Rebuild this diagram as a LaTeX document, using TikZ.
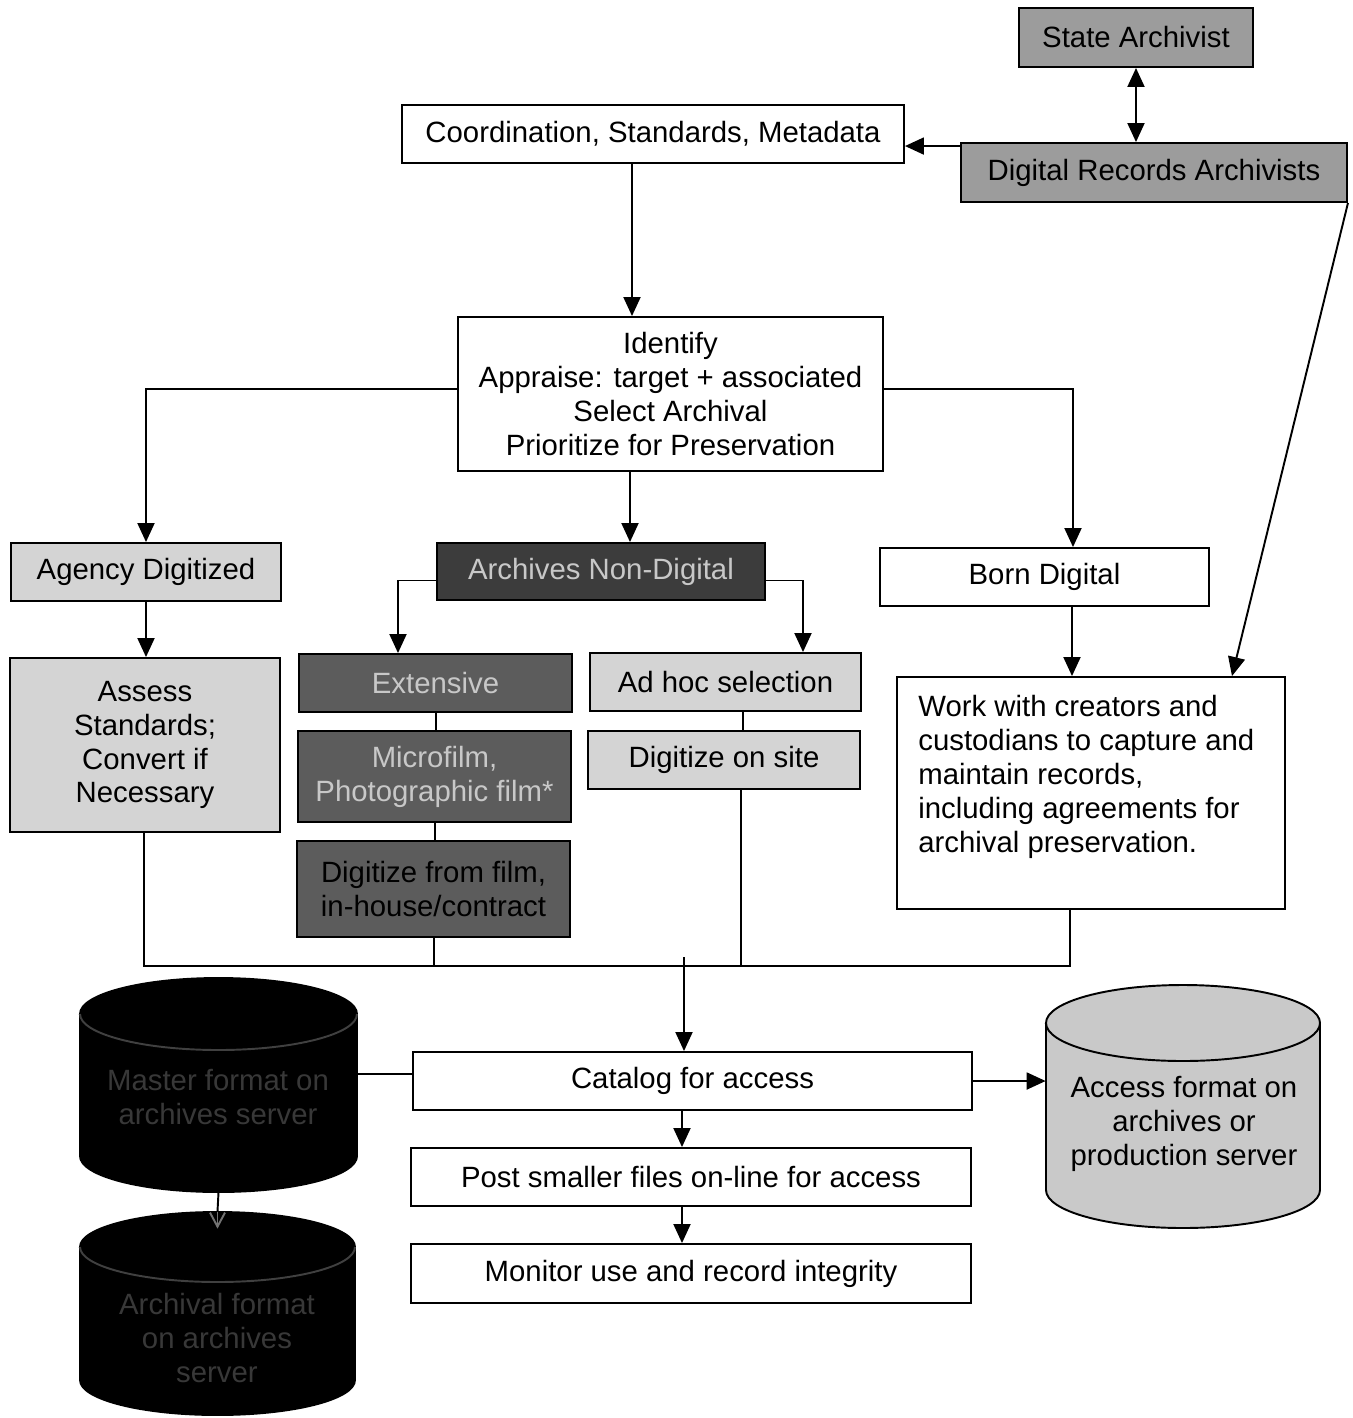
\documentclass[tikz,border=0pt]{standalone}
\usepackage{fontspec}
\setmainfont{Liberation Sans}
\usetikzlibrary{arrows.meta,calc}

\definecolor{midgray}{HTML}{9C9C9C}
\definecolor{lightgray}{HTML}{D4D4D4}
\definecolor{cylgray}{HTML}{C9C9C9}
\definecolor{darkfill}{HTML}{3C3C3C}
\definecolor{filmfill}{HTML}{5C5C5C}
\definecolor{paletext}{HTML}{C8C8C8}
\definecolor{dimtext}{HTML}{383838}

\newcommand{\dgfont}{\fontsize{16.7}{19.3}\selectfont}

% cylinder: left x, right x, top y, bottom y, ellipse half-height, fill, rim colour
\newcommand{\drawcyl}[7]{%
  \pgfmathsetmacro\cylrx{(#2-#1)/2*0.02}%
  \pgfmathsetmacro\cylry{#5*0.02}%
  \draw[ln, fill=#6] (#1,#3+#5) -- (#1,#4-#5)
    arc[start angle=180, end angle=360, x radius=\cylrx cm, y radius=\cylry cm]
    -- (#2,#3+#5)
    arc[start angle=0, end angle=180, x radius=\cylrx cm, y radius=\cylry cm] -- cycle;
  \draw[ln, draw=#7] (#1,#3+#5)
    arc[start angle=180, end angle=360, x radius=\cylrx cm, y radius=\cylry cm];
}

\tikzset{
  ln/.style={line width=1.1pt},
  arr/.style={ln, -{Triangle[length=0.38cm, width=0.34cm]}},
  dblarr/.style={ln, {Triangle[length=0.38cm, width=0.34cm]}-{Triangle[length=0.38cm, width=0.34cm]}},
  bx/.style={draw, ln, align=center, inner sep=0pt, font=\dgfont},
  sz/.style 2 args={minimum width=#1*0.02cm, minimum height=#2*0.02cm},
  label/.style={align=center, inner sep=0pt, font=\dgfont},
}

\begin{document}
\begin{tikzpicture}[x=0.02cm, y=-0.02cm]
\useasboundingbox[fill=white] (0,0) rectangle (1353,1418);

% ---- top: archivists and coordination ----
\node[bx, sz={234}{59}, fill=midgray] (sa) at (1136,37.5) {State Archivist};
\node[bx, sz={386}{59}, fill=midgray] (dra) at (1154,172.5) {Digital Records Archivists};
\node[bx, sz={502}{58}, fill=white] (coord) at (653,134) {Coordination, Standards, Metadata};
\node[bx, sz={425}{154}, fill=white] (ident) at (670.5,394)
  {Identify\\Appraise: target + associated\\Select Archival\\Prioritize for Preservation};

% ---- record streams ----
\node[bx, sz={270}{58}, fill=lightgray] (agency) at (146,572) {Agency Digitized};
\node[bx, sz={328}{57}, fill=darkfill, text=paletext] (and) at (601,571.5) {Archives Non-Digital};
\node[bx, sz={329}{58}, fill=white] (born) at (1044.5,577) {Born Digital};

\node[bx, sz={270}{174}, fill=lightgray] (assess) at (145,745)
  {Assess\\Standards;\\Convert if\\Necessary};
\node[bx, sz={273}{58}, fill=filmfill, text=paletext] (ext) at (435.5,683) {Extensive};
\node[bx, sz={273}{91}, fill=filmfill, text=paletext] (micro) at (434.5,776.5)
  {Microfilm,\\Photographic film*};
\node[bx, sz={273}{96}, fill=filmfill, text=black] (dff) at (433.5,889)
  {Digitize from film,\\in-house/contract};
\node[bx, sz={271}{58}, fill=lightgray] (adhoc) at (725.5,682) {Ad hoc selection};
\node[bx, sz={272}{58}, fill=lightgray] (dos) at (724,760) {Digitize on site};
\node[bx, sz={388}{232}, fill=white] (work) at (1091,793) {};
\node[label, anchor=north west, align=left] (worktext) at (918,695)
  {Work with creators and\\custodians to capture and\\maintain records,\\including agreements for\\archival preservation.};

% ---- access steps ----
\node[bx, sz={559}{58}, fill=white] (cat) at (692.5,1081) {Catalog for access};
\node[bx, sz={560}{58}, fill=white] (post) at (691,1177) {Post smaller files on-line for access};
\node[bx, sz={560}{59}, fill=white] (mon) at (691,1273.5) {Monitor use and record integrity};

% ---- storage cylinders ----
\drawcyl{80}{357}{978}{1192}{36}{black}{black!75}
\drawcyl{80}{355}{1212}{1415}{35}{black}{black!75}
\drawcyl{1046}{1320}{985}{1228}{38}{cylgray}{black}
\node[inner sep=0pt, minimum width=277*0.02cm, minimum height=214*0.02cm] (mastercyl) at (218.5,1085) {};
\node[inner sep=0pt, minimum width=275*0.02cm, minimum height=203*0.02cm] (archcyl) at (217.5,1313.5) {};
\node[inner sep=0pt, minimum width=274*0.02cm, minimum height=243*0.02cm] (accesscyl) at (1183,1106.5) {};
\node[label, text=dimtext] (mastertext) at (218,1097) {Master format on\\archives server};
\node[label, text=dimtext] (archtext) at (217,1338) {Archival format\\on archives\\server};
\node[label] (accesstext) at (1184,1124) {Access format on\\archives or\\production server};

% ---- connectors: top ----
\draw[dblarr] (sa.south) -- (dra.north -| sa.south);
\coordinate (draleft) at ($(dra.north west)+(0,4)$);
\draw[arr] (draleft) -- (coord.east |- draleft);
\draw[arr] (dra.south east) -- (work.north -| 1232,0);
\draw[arr] (coord.south -| 632,0) -- (ident.north -| 632,0);

% ---- connectors: streams ----
\coordinate (identleft) at ($(ident.west)+(0,-5)$);
\coordinate (identright) at ($(ident.east)+(0,-5)$);
\draw[arr] (identleft) -| (agency.north);
\draw[arr] (identright) -| (born.north -| 1073,0);
\draw[arr] (ident.south -| 630,0) -- (and.north -| 630,0);
\draw[arr] (agency.south) -- (assess.north -| agency.south);
\coordinate (andleft) at ($(and.west)+(0,9)$);
\coordinate (andright) at ($(and.east)+(0,9)$);
\draw[arr] (andleft) -| (ext.north -| 398,0);
\draw[arr] (andright) -| (adhoc.north -| 803,0);
\draw[ln] (ext.south -| 436,0) -- (micro.north -| 436,0);
\draw[ln] (micro.south -| 435,0) -- (dff.north -| 435,0);
\draw[ln] (adhoc.south -| 743,0) -- (dos.north -| 743,0);
\draw[arr] (born.south -| 1072,0) -- (work.north -| 1072,0);

% ---- collecting line and access steps ----
\coordinate (gather) at (684,957);
\draw[ln] (assess.south -| 144,0) -- (144,966) -- (1070,966) -- (work.south -| 1070,0);
\draw[ln] (dff.south -| 434,0) -- (434,966);
\draw[ln] (dos.south -| 741,0) -- (741,966);
\draw[arr] (gather) -- (cat.north -| gather);
\draw[arr] (cat.south -| 682,0) -- (post.north -| 682,0);
\draw[arr] (post.south -| 682,0) -- (mon.north -| 682,0);
\draw[arr] (cat.east) -- (accesscyl.west |- cat.east);
\coordinate (catleft) at ($(cat.west)+(0,-7)$);
\draw[ln] (catleft) -- (mastercyl.east |- catleft);
\draw[ln] (mastercyl.south) -- (archcyl.north);
\draw[ln, draw=black!55, -{Straight Barb[length=0.28cm, width=0.3cm]}] (archcyl.north) -- ++(0,17);
\end{tikzpicture}
\end{document}
